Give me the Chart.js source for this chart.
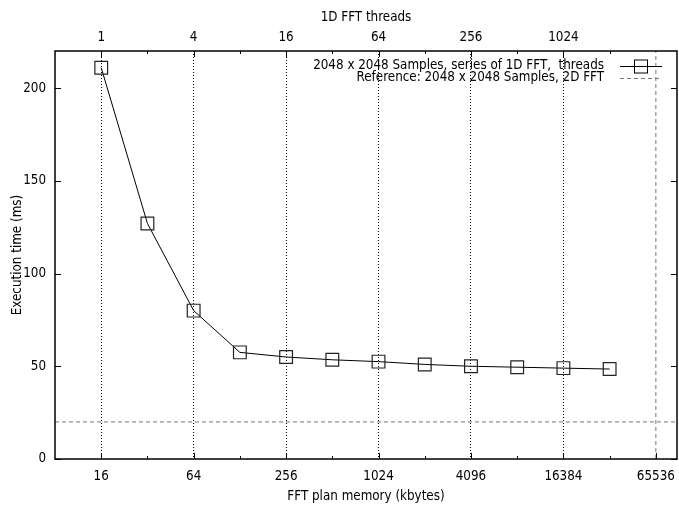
<!DOCTYPE html>
<html>
<head>
<meta charset="utf-8">
<script src="https://cdn.jsdelivr.net/npm/chart.js@4.4.1/dist/chart.umd.min.js"></script>
<style>
  body { margin: 0; background: #fff; }
  #wrap { width: 679px; height: 505px; }
</style>
</head>
<body>
<div id="wrap"><canvas id="fftChart" width="679" height="505"></canvas></div>
<script>
// measured values
var memoryKb = [16, 32, 64, 128, 256, 512, 1024, 2048, 4096, 8192, 16384, 32768];
var execTime = [211, 127, 80, 57.5, 55, 53.5, 52.5, 51, 50, 49.5, 49, 48.5];
var referenceTime = 20;
var referenceMemory = 65536;

// axes
var memoryTicks = [16, 64, 256, 1024, 4096, 16384, 65536];
var memoryMinorTicks = [32, 128, 512, 2048, 8192, 32768];
var threadTicks = [1, 4, 16, 64, 256, 1024];
var threadMinorTicks = [2, 8, 32, 128, 512, 2048];
var timeTicks = [0, 50, 100, 150, 200];
var kbPerThread = 16;
var memMin = 8, memMax = 90000, timeMax = 220;

var seriesLabel = '2048 x 2048 Samples, series of 1D FFT,  threads';
var referenceLabel = 'Reference: 2048 x 2048 Samples, 2D FFT';

var FONT = "'DejaVu Sans Condensed', 'DejaVu Sans', sans-serif";
var FSIZE = 13.3;
Chart.defaults.font.family = FONT;
Chart.defaults.font.size = FSIZE;
Chart.defaults.color = '#000';

var points = memoryKb.map(function(m, i) { return { x: m, y: execTime[i] } });

function setTicks(list) {
    return function(scale) {
        scale.ticks = list.map(function(v) { return { value: v } });
    }
}

function fixHeight(h) {
    return function(s) {
        s.height = h;
        s.paddingLeft = 0;
        s.paddingRight = 0;
    }
}

// gnuplot style frame, inward ticks and key
var gnuplotFrame = {
    id: 'gnuplotFrame',
    afterDatasetsDraw: function(chart) {
        var ctx = chart.ctx, a = chart.chartArea;
        var x = chart.scales.x, x2 = chart.scales.x2, y = chart.scales.y;
        ctx.save();
        ctx.strokeStyle = '#000';
        ctx.lineWidth = 1;
        ctx.beginPath();
        function vtick(px, len) {
            px = Math.round(px) + 0.5;
            ctx.moveTo(px, a.bottom); ctx.lineTo(px, a.bottom - len);
        }
        function ttick(px, len) {
            px = Math.round(px) + 0.5;
            ctx.moveTo(px, a.top); ctx.lineTo(px, a.top + len);
        }
        memoryTicks.forEach(function(v) { vtick(x.getPixelForValue(v), 6) });
        memoryMinorTicks.forEach(function(v) { vtick(x.getPixelForValue(v), 3) });
        threadTicks.forEach(function(v) { ttick(x2.getPixelForValue(v), 6) });
        threadMinorTicks.forEach(function(v) { ttick(x2.getPixelForValue(v), 3) });
        timeTicks.forEach(function(v) {
            var py = Math.round(y.getPixelForValue(v)) + 0.5;
            ctx.moveTo(a.left, py); ctx.lineTo(a.left + 6, py);
            ctx.moveTo(a.right, py); ctx.lineTo(a.right - 6, py);
        });
        ctx.stroke();
        ctx.lineWidth = 1.5;
        ctx.strokeRect(a.left, a.top, a.right - a.left, a.bottom - a.top);

        // key
        var tx = a.right - 73, s0 = a.right - 57, s1 = a.right - 15;
        var ky1 = a.top + 15, ky2 = a.top + 27;
        ctx.fillStyle = '#000';
        ctx.font = FSIZE + 'px ' + FONT;
        ctx.textAlign = 'right';
        ctx.textBaseline = 'middle';
        ctx.fillText(seriesLabel, tx, ky1);
        ctx.fillText(referenceLabel, tx, ky2);
        ctx.lineWidth = 1;
        ctx.beginPath();
        ctx.moveTo(s0, ky1 + 0.5); ctx.lineTo(s1, ky1 + 0.5);
        ctx.stroke();
        ctx.strokeRect(Math.round((s0 + s1) / 2) - 6.5, ky1 - 6, 13, 13);
        ctx.strokeStyle = '#777';
        ctx.setLineDash([4, 3]);
        ctx.beginPath();
        ctx.moveTo(s0, ky2 + 0.5); ctx.lineTo(s1, ky2 + 0.5);
        ctx.stroke();
        ctx.restore();
    }
};

new Chart(document.getElementById('fftChart').getContext('2d'), {
    type: 'scatter',
    data: {
        datasets: [{
            label: seriesLabel,
            data: points,
            showLine: true,
            borderColor: '#000',
            borderWidth: 1,
            pointStyle: 'rect',
            pointRadius: 9,
            pointBorderWidth: 1.2,
            pointBorderColor: '#222',
            pointBackgroundColor: 'rgba(0,0,0,0)',
            order: 0
        }, {
            label: referenceLabel,
            data: [{ x: memMin, y: referenceTime }, { x: memMax, y: referenceTime }],
            showLine: true,
            borderColor: '#777',
            borderWidth: 1,
            borderDash: [4, 3],
            pointRadius: 0,
            order: 1
        }, {
            label: 'ref-vertical',
            data: [{ x: referenceMemory, y: 0 }, { x: referenceMemory, y: timeMax }],
            showLine: true,
            borderColor: '#777',
            borderWidth: 1,
            borderDash: [4, 3],
            pointRadius: 0,
            order: 1
        }]
    },
    options: {
        responsive: false,
        animation: false,
        layout: { autoPadding: false, padding: { right: 2, left: 0, top: 0, bottom: 0 } },
        plugins: {
            legend: { display: false },
            tooltip: { enabled: false }
        },
        scales: {
            x: {
                type: 'logarithmic',
                position: 'bottom',
                min: memMin,
                max: memMax,
                afterBuildTicks: setTicks(memoryTicks),
                afterFit: fixHeight(46),
                ticks: {
                    padding: 10,
                    maxRotation: 0,
                    autoSkip: false,
                    callback: function(v) { return String(v) }
                },
                grid: {
                    drawTicks: false,
                    lineWidth: 1,
                    color: function(c) { return c.tick && c.tick.value === referenceMemory ? 'rgba(0,0,0,0)' : '#000' }
                },
                border: { display: false, dash: [1, 2] },
                title: { display: true, text: 'FFT plan memory (kbytes)', padding: { top: 0, bottom: 0 } }
            },
            x2: {
                type: 'logarithmic',
                position: 'top',
                min: memMin / kbPerThread,
                max: memMax / kbPerThread,
                afterBuildTicks: setTicks(threadTicks),
                afterFit: fixHeight(51),
                ticks: {
                    padding: 5,
                    maxRotation: 0,
                    autoSkip: false,
                    callback: function(v) { return String(v) }
                },
                grid: { display: false, drawTicks: false },
                border: { display: false },
                title: { display: true, text: '1D FFT threads', padding: { top: 10, bottom: 0 } }
            },
            y: {
                type: 'linear',
                min: 0,
                max: timeMax,
                afterBuildTicks: setTicks(timeTicks),
                afterFit: function(s) { s.width = 55 },
                ticks: { padding: 9 },
                grid: { display: false, drawTicks: false },
                border: { display: false },
                title: { display: true, text: 'Execution time (ms)', padding: { top: 10, bottom: 0 } }
            }
        }
    },
    plugins: [gnuplotFrame]
});
</script>
</body>
</html>
